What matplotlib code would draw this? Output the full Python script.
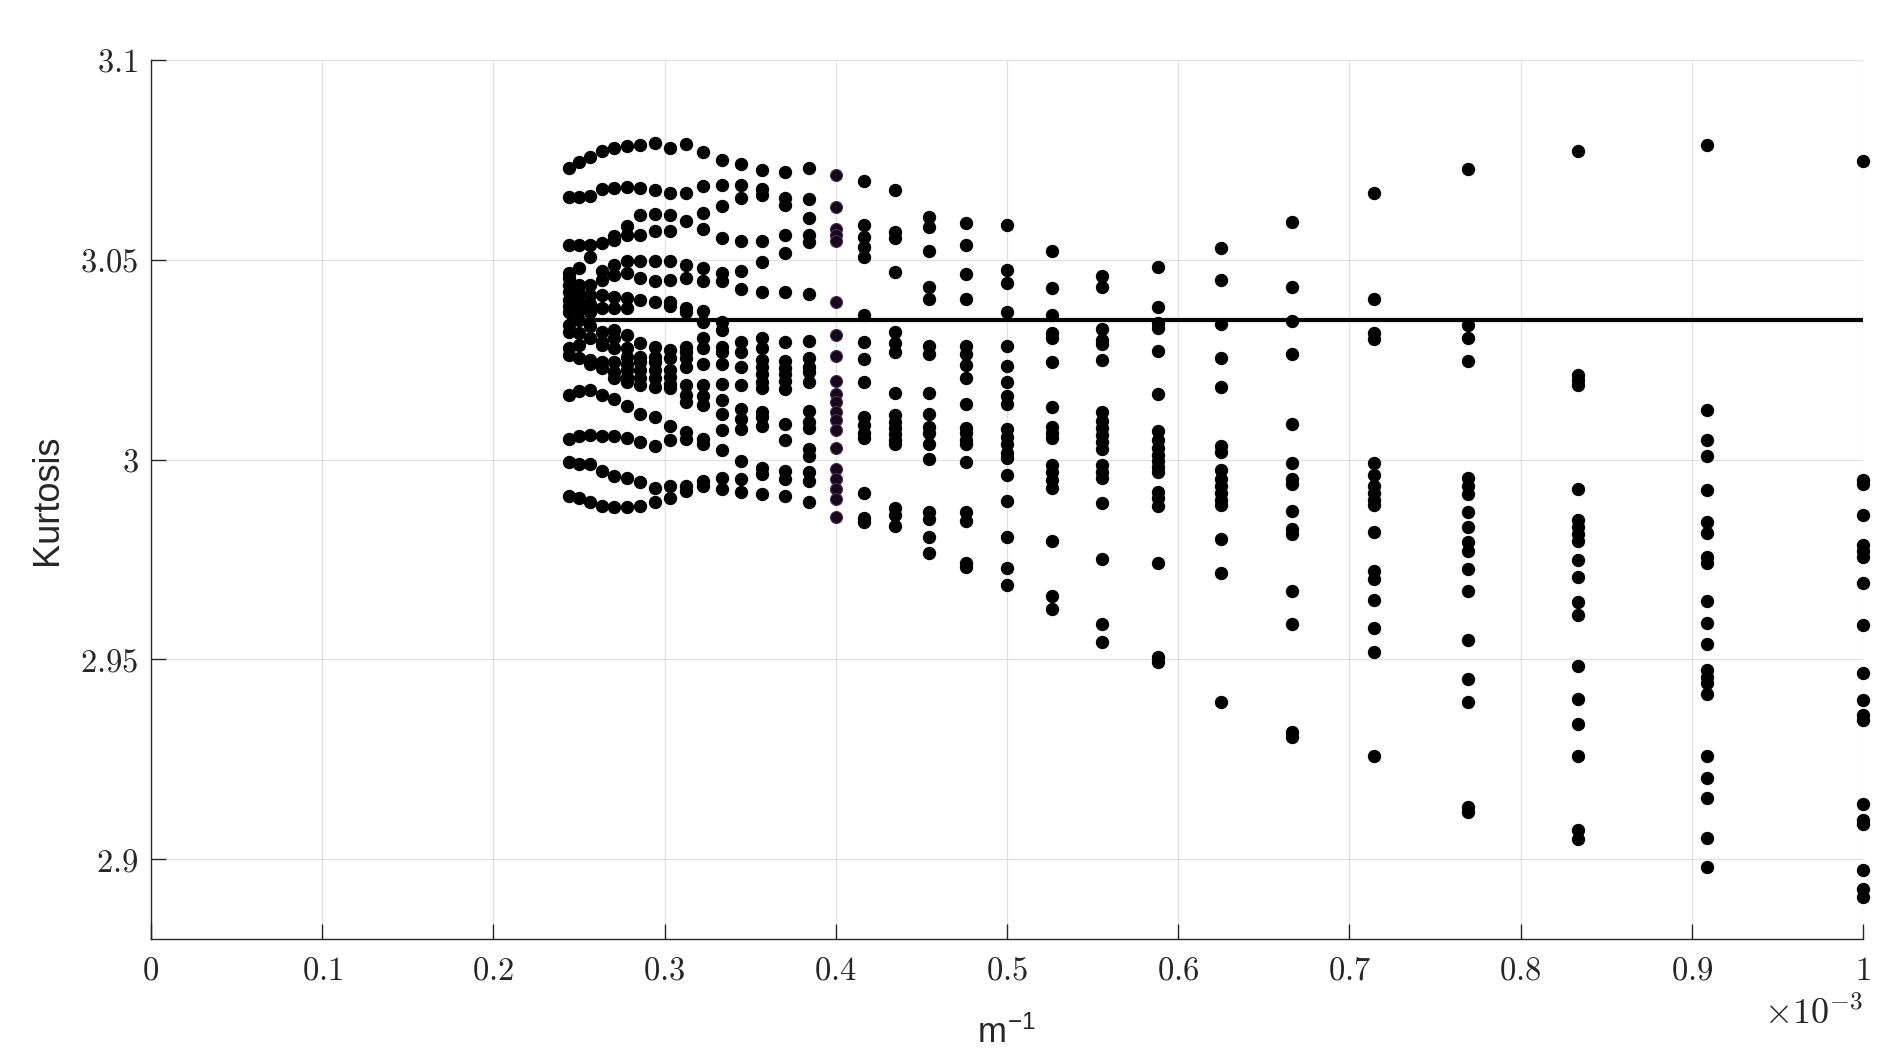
import numpy as np
import matplotlib
matplotlib.use("Agg")
import matplotlib.pyplot as plt
from matplotlib.ticker import FuncFormatter

# Kurtosis estimates per sample size m (read column by column, x = 1/m)
k_1000 = [3.0746, 2.9948, 2.9938, 2.9862, 2.9787, 2.9770, 2.9757, 2.9692, 2.9587, 2.9467,
          2.9399, 2.9360, 2.9349, 2.9137, 2.9098, 2.9088, 2.8973, 2.8924, 2.8904]
k_1100 = [3.0788, 3.0125, 3.0049, 3.0010, 2.9925, 2.9843, 2.9817, 2.9755, 2.9741, 2.9646,
          2.9591, 2.9539, 2.9473, 2.9456, 2.9441, 2.9412, 2.9258, 2.9203, 2.9153, 2.9052, 2.8980]
k_1200 = [3.0772, 3.0212, 3.0199, 3.0186, 2.9927, 2.9849, 2.9830, 2.9813, 2.9796, 2.9748,
          2.9705, 2.9643, 2.9611, 2.9483, 2.9401, 2.9339, 2.9258, 2.9072, 2.9051]
k_1300 = [3.0726, 3.0337, 3.0305, 3.0247, 2.9954, 2.9934, 2.9914, 2.9869, 2.9831, 2.9794,
          2.9772, 2.9727, 2.9671, 2.9548, 2.9451, 2.9393, 2.9131, 2.9117]
k_1400 = [3.0667, 3.0402, 3.0317, 3.0301, 2.9992, 2.9962, 2.9934, 2.9917, 2.9900, 2.9887,
          2.9819, 2.9721, 2.9701, 2.9649, 2.9578, 2.9518, 2.9259]
k_1500 = [3.0595, 3.0433, 3.0346, 3.0264, 3.0088, 2.9992, 2.9951, 2.9940, 2.9870, 2.9825,
          2.9814, 2.9671, 2.9589, 2.9317, 2.9305]
k_1600 = [3.0530, 3.0449, 3.0340, 3.0255, 3.0182, 3.0035, 3.0018, 2.9973, 2.9951, 2.9934,
          2.9917, 2.9900, 2.9887, 2.9800, 2.9717, 2.9393]
k_1700 = [3.0482, 3.0382, 3.0342, 3.0330, 3.0272, 3.0165, 3.0071, 3.0050, 3.0030, 3.0012,
          2.9996, 2.9981, 2.9968, 2.9919, 2.9903, 2.9883, 2.9740, 2.9507, 2.9494]
k_1800 = [3.0460, 3.0433, 3.0326, 3.0299, 3.0288, 3.0250, 3.0118, 3.0097, 3.0080, 3.0062,
          3.0044, 3.0026, 2.9986, 2.9968, 2.9954, 2.9892, 2.9751, 2.9588, 2.9543]
k_1900 = [3.0521, 3.0429, 3.0363, 3.0317, 3.0303, 3.0245, 3.0131, 3.0082, 3.0066, 3.0053,
          2.9987, 2.9968, 2.9948, 2.9928, 2.9795, 2.9659, 2.9626]
k_2000 = [3.0587, 3.0475, 3.0442, 3.0370, 3.0283, 3.0234, 3.0193, 3.0160, 3.0138, 3.0077,
          3.0057, 3.0038, 3.0017, 3.0004, 2.9962, 2.9895, 2.9807, 2.9729, 2.9686]
k_2100 = [3.0591, 3.0538, 3.0464, 3.0403, 3.0283, 3.0265, 3.0236, 3.0205, 3.0140, 3.0080,
          3.0066, 3.0050, 3.0038, 2.9993, 2.9869, 2.9847, 2.9740, 2.9731]
k_2200 = [3.0607, 3.0583, 3.0521, 3.0433, 3.0402, 3.0285, 3.0263, 3.0166, 3.0113, 3.0082,
          3.0066, 3.0038, 3.0002, 2.9869, 2.9851, 2.9807, 2.9767]
k_2300 = [3.0674, 3.0569, 3.0554, 3.0470, 3.0320, 3.0292, 3.0270, 3.0166, 3.0111, 3.0095,
          3.0080, 3.0064, 3.0048, 3.0038, 2.9878, 2.9860, 2.9834]
k_2400 = [3.0696, 3.0588, 3.0556, 3.0531, 3.0508, 3.0363, 3.0293, 3.0252, 3.0194, 3.0106,
          3.0086, 3.0066, 3.0053, 2.9917, 2.9853, 2.9844]
k_2500 = [3.0712, 3.0631, 3.0577, 3.0563, 3.0546, 3.0395, 3.0312, 3.0260, 3.0196, 3.0164,
          3.0144, 3.0119, 3.0098, 3.0073, 3.0028, 2.9977, 2.9951, 2.9926, 2.9901, 2.9855]
k_2600 = [3.0729, 3.0651, 3.0605, 3.0563, 3.0544, 3.0415, 3.0296, 3.0253, 3.0232, 3.0218,
          3.0194, 3.0121, 3.0094, 3.0079, 3.0027, 3.0008, 2.9970, 2.9947, 2.9893]
k_2700 = [3.0720, 3.0655, 3.0637, 3.0563, 3.0517, 3.0419, 3.0293, 3.0246, 3.0229, 3.0215,
          3.0196, 3.0176, 3.0090, 3.0050, 2.9972, 2.9951, 2.9910]
k_2800 = [3.0724, 3.0676, 3.0662, 3.0546, 3.0494, 3.0419, 3.0303, 3.0278, 3.0249, 3.0232,
          3.0215, 3.0194, 3.0178, 3.0119, 3.0106, 3.0085, 2.9978, 2.9964, 2.9914]
k_2900 = [3.0740, 3.0688, 3.0655, 3.0548, 3.0471, 3.0427, 3.0293, 3.0270, 3.0232, 3.0186,
          3.0127, 3.0102, 3.0077, 2.9997, 2.9951, 2.9920]
k_3000 = [3.0749, 3.0688, 3.0634, 3.0554, 3.0466, 3.0446, 3.0345, 3.0324, 3.0282, 3.0270,
          3.0238, 3.0190, 3.0148, 3.0115, 3.0073, 3.0023, 2.9953, 2.9926]
k_3100 = [3.0770, 3.0684, 3.0617, 3.0578, 3.0479, 3.0446, 3.0372, 3.0345, 3.0303, 3.0278,
          3.0240, 3.0186, 3.0159, 3.0137, 3.0052, 3.0039, 2.9947, 2.9935]
k_3200 = [3.0791, 3.0668, 3.0596, 3.0487, 3.0454, 3.0380, 3.0370, 3.0282, 3.0270, 3.0253,
          3.0232, 3.0186, 3.0161, 3.0144, 3.0069, 3.0052, 2.9935, 2.9922]
k_3300 = [3.0780, 3.0668, 3.0611, 3.0573, 3.0496, 3.0450, 3.0395, 3.0385, 3.0274, 3.0253,
          3.0224, 3.0207, 3.0190, 3.0178, 3.0085, 3.0048, 2.9935, 2.9905]
k_3400 = [3.0793, 3.0675, 3.0615, 3.0571, 3.0496, 3.0446, 3.0395, 3.0282, 3.0257, 3.0245,
          3.0224, 3.0203, 3.0182, 3.0106, 3.0035, 2.9928, 2.9894]
k_3500 = [3.0788, 3.0680, 3.0611, 3.0563, 3.0496, 3.0454, 3.0400, 3.0291, 3.0257, 3.0245,
          3.0224, 3.0203, 3.0186, 3.0115, 3.0044, 2.9943, 2.9884]
k_3600 = [3.0784, 3.0682, 3.0584, 3.0561, 3.0496, 3.0466, 3.0404, 3.0379, 3.0312, 3.0278,
          3.0257, 3.0240, 3.0224, 3.0207, 3.0194, 3.0134, 3.0054, 2.9953, 2.9880]
k_3700 = [3.0780, 3.0680, 3.0559, 3.0550, 3.0487, 3.0462, 3.0408, 3.0379, 3.0324, 3.0303,
          3.0278, 3.0245, 3.0219, 3.0203, 3.0152, 3.0059, 2.9960, 2.9880]
k_3800 = [3.0772, 3.0676, 3.0542, 3.0471, 3.0450, 3.0412, 3.0379, 3.0320, 3.0295, 3.0286,
          3.0245, 3.0228, 3.0161, 3.0060, 2.9972, 2.9884]
k_3900 = [3.0757, 3.0659, 3.0538, 3.0508, 3.0437, 3.0412, 3.0390, 3.0370, 3.0333, 3.0303,
          3.0249, 3.0240, 3.0173, 3.0062, 2.9989, 2.9893]
k_4000 = [3.0745, 3.0657, 3.0536, 3.0479, 3.0437, 3.0416, 3.0395, 3.0375, 3.0349, 3.0316,
          3.0286, 3.0253, 3.0171, 3.0059, 2.9989, 2.9905]
k_4100 = [3.0729, 3.0657, 3.0536, 3.0466, 3.0454, 3.0437, 3.0420, 3.0400, 3.0385, 3.0370,
          3.0337, 3.0320, 3.0278, 3.0261, 3.0161, 3.0052, 2.9993, 2.9910]

m_sizes = [1000, 1100, 1200, 1300, 1400, 1500, 1600, 1700, 1800, 1900, 2000,
           2100, 2200, 2300, 2400, 2500, 2600, 2700, 2800, 2900, 3000,
           3100, 3200, 3300, 3400, 3500, 3600, 3700, 3800, 3900, 4000, 4100]
kurt_cols = [k_1000, k_1100, k_1200, k_1300, k_1400, k_1500, k_1600, k_1700, k_1800,
             k_1900, k_2000, k_2100, k_2200, k_2300, k_2400, k_2500, k_2600, k_2700,
             k_2800, k_2900, k_3000, k_3100, k_3200, k_3300, k_3400, k_3500, k_3600,
             k_3700, k_3800, k_3900, k_4000, k_4100]

# nivel de referência (linha horizontal)
ref_level = 3.035

x_ticks = [0, 0.1e-3, 0.2e-3, 0.3e-3, 0.4e-3, 0.5e-3, 0.6e-3, 0.7e-3, 0.8e-3, 0.9e-3, 1e-3]
y_ticks = [2.9, 2.95, 3.0, 3.05, 3.1]

plt.rcParams['mathtext.fontset'] = 'cm'
plt.rcParams['font.family'] = ['Liberation Sans', 'DejaVu Sans']

W, H = 1890, 1060
fig = plt.figure(figsize=(W / 100, H / 100), dpi=100)
ax = fig.add_axes([151 / W, 1 - 939 / H, 1712 / W, 879 / H])

# pontos de cada coluna
for m, k in zip(m_sizes, kurt_cols):
    x = np.full(len(k), 1.0 / m)
    if m == 2500:
        ax.plot(x, k, 'o', ms=8.6, mfc='#160a1a', mec='#4e2a5a', mew=0.8,
                ls='none', clip_on=False, zorder=3)
    else:
        ax.plot(x, k, 'o', ms=8.6, color='black', ls='none', clip_on=False, zorder=3)

# linha horizontal
ax.plot([1.0 / max(m_sizes), 1.0 / min(m_sizes)], [ref_level, ref_level],
        color='black', lw=3.0, zorder=4)

ax.set_xlim(0, 1e-3)
ax.set_ylim(2.88, 3.1)
ax.set_xticks(x_ticks)
ax.set_yticks(y_ticks)
ax.xaxis.set_major_formatter(FuncFormatter(lambda v, p: f'${v * 1e3:g}$'))
ax.yaxis.set_major_formatter(FuncFormatter(lambda v, p: f'${v:g}$'))

for s in ['top', 'right']:
    ax.spines[s].set_visible(False)
for s in ['left', 'bottom']:
    ax.spines[s].set_color('#262626')
    ax.spines[s].set_linewidth(1.0)

ax.grid(True, color='#e0e0e0', linewidth=0.9)
ax.set_axisbelow(True)
ax.tick_params(axis='both', direction='in', length=11, width=1.0, colors='#262626',
               labelsize=23.5, labelcolor='#262626')
ax.tick_params(axis='x', pad=12)
ax.tick_params(axis='y', pad=9)

# rótulos
ax.set_ylabel('Kurtosis', fontsize=26, color='#262626', va='center')
ax.yaxis.set_label_coords(-0.0602, 0.5)
ax.set_xlabel(r'm$^{\mathregular{-1}}$', fontsize=25, color='#262626', va='baseline')
ax.xaxis.set_label_coords(0.5, (939 - 1043) / 879)

ax.text(1.0, (939 - 1024) / 879, r'$\times10^{-3}$', transform=ax.transAxes,
        ha='right', va='baseline', fontsize=26, color='#262626')

fig.savefig('out.png', dpi=100)
